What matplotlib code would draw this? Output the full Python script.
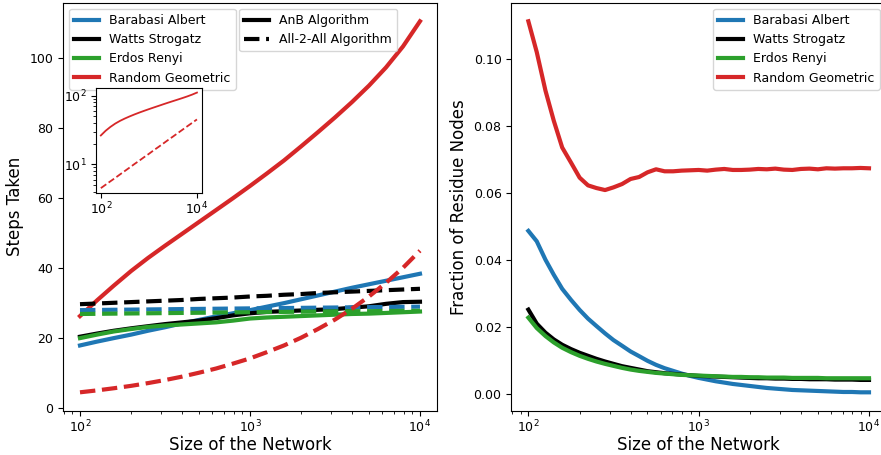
import matplotlib
matplotlib.use("Agg")
import matplotlib.pyplot as plt
import matplotlib.ticker as mticker
from matplotlib.lines import Line2D

# network sizes (log spaced, 100 .. 10000)
sizes_fine = [100, 112, 126, 141, 158, 178, 200, 224, 251, 282, 316, 355, 398, 447,
              501, 562, 631, 708, 794, 891, 1000, 1122, 1259, 1413, 1585, 1778, 1995,
              2239, 2512, 2818, 3162, 3548, 3981, 4467, 5012, 5623, 6310, 7079, 7943,
              8913, 10000]
sizes = sizes_fine[::2]

names = ["Barabasi Albert", "Watts Strogatz", "Erdos Renyi", "Random Geometric"]
colors = ["#1f77b4", "black", "#2ca02c", "#d62728"]

# steps taken, AnB algorithm
anb_ba = [17.9, 19.0, 20.0, 21.0, 22.1, 23.1, 24.2, 25.2, 26.2, 27.1, 28.0, 29.0,
          30.0, 31.1, 32.2, 33.3, 34.4, 35.4, 36.4, 37.4, 38.4]
anb_ws = [20.4, 21.3, 22.1, 22.8, 23.4, 24.0, 24.5, 25.0, 25.7, 26.5, 27.1, 27.5,
          27.7, 27.9, 28.1, 28.3, 28.7, 29.1, 29.8, 30.3, 30.4]
anb_er = [20.0, 21.0, 21.9, 22.6, 23.2, 23.6, 23.9, 24.2, 24.5, 25.0, 25.6, 25.9,
          26.1, 26.3, 26.5, 26.7, 26.9, 27.0, 27.2, 27.4, 27.6]
anb_rg = [26.3, 30.8, 35.0, 39.2, 42.9, 46.4, 49.8, 53.2, 56.6, 60.0, 63.5, 67.1,
          70.8, 74.8, 78.9, 83.1, 87.5, 92.2, 97.4, 103.4, 110.6]

# steps taken, All-2-All algorithm
a2a_ba = [28.0, 28.05, 28.1, 28.15, 28.2, 28.25, 28.3, 28.35, 28.4, 28.45, 28.5,
          28.55, 28.6, 28.65, 28.7, 28.75, 28.8, 28.85, 28.9, 28.95, 29.0]
a2a_ws = [29.7, 29.9, 30.1, 30.3, 30.5, 30.7, 30.9, 31.2, 31.4, 31.6, 31.9, 32.1,
          32.4, 32.6, 32.9, 33.1, 33.3, 33.5, 33.7, 33.9, 34.1]
a2a_er = [26.9, 26.95, 27.0, 27.05, 27.1, 27.15, 27.2, 27.25, 27.3, 27.35, 27.4,
          27.45, 27.5, 27.55, 27.6, 27.65, 27.7, 27.7, 27.75, 27.8, 27.8]
a2a_rg = [4.5, 5.05, 5.66, 6.35, 7.13, 8.0, 8.98, 10.1, 11.3, 12.7, 14.2, 16.0,
          17.9, 20.1, 22.6, 25.3, 28.4, 31.9, 35.8, 40.1, 45.0]

# fraction of residue nodes
res_ba = [0.0486, 0.0455, 0.0400, 0.0355, 0.0313, 0.0280, 0.0250, 0.0224, 0.0202,
          0.0180, 0.0160, 0.0143, 0.0126, 0.0112, 0.0098, 0.0086, 0.0076, 0.0068,
          0.0060, 0.0053, 0.0047, 0.0042, 0.0037, 0.0033, 0.0029, 0.0026, 0.0023,
          0.0020, 0.0017, 0.0015, 0.0013, 0.0011, 0.0010, 0.0009, 0.0008, 0.0007,
          0.0006, 0.0005, 0.0005, 0.0004, 0.0004]
res_ws = [0.0251, 0.0209, 0.0182, 0.0162, 0.0146, 0.0133, 0.0122, 0.0113, 0.0104,
          0.0096, 0.0089, 0.0082, 0.0077, 0.0072, 0.0067, 0.0064, 0.0061, 0.0059,
          0.0057, 0.0055, 0.0053, 0.0052, 0.0051, 0.0050, 0.0049, 0.0048, 0.0047,
          0.0046, 0.0046, 0.0045, 0.0045, 0.0044, 0.0044, 0.0043, 0.0043, 0.0043,
          0.0042, 0.0042, 0.0042, 0.0041, 0.0041]
res_er = [0.0227, 0.0196, 0.0172, 0.0153, 0.0137, 0.0124, 0.0113, 0.0104, 0.0096,
          0.0089, 0.0083, 0.0077, 0.0072, 0.0068, 0.0065, 0.0062, 0.0060, 0.0058,
          0.0056, 0.0055, 0.0054, 0.0053, 0.0052, 0.0051, 0.0050, 0.0050, 0.0049,
          0.0049, 0.0048, 0.0048, 0.0048, 0.0047, 0.0047, 0.0047, 0.0047, 0.0046,
          0.0046, 0.0046, 0.0046, 0.0046, 0.0046]
res_rg = [0.1112, 0.1020, 0.0905, 0.0815, 0.0735, 0.0690, 0.0645, 0.0622, 0.0614,
          0.0608, 0.0616, 0.0626, 0.0641, 0.0647, 0.0661, 0.0670, 0.0664, 0.0664,
          0.0666, 0.0667, 0.0668, 0.0666, 0.0669, 0.0671, 0.0668, 0.0668, 0.0669,
          0.0671, 0.0670, 0.0672, 0.0669, 0.0668, 0.0671, 0.0672, 0.0670, 0.0673,
          0.0672, 0.0673, 0.0673, 0.0674, 0.0673]

anb = [anb_ba, anb_ws, anb_er, anb_rg]
a2a = [a2a_ba, a2a_ws, a2a_er, a2a_rg]
res = [res_ba, res_ws, res_er, res_rg]

fig = plt.figure(figsize=(8.81, 4.55), dpi=100)
ax1 = fig.add_axes([0.0715, 0.097, 0.4245, 0.897])
# the right panel runs a little past the edge of the picture, as in the original
ax2 = fig.add_axes([0.5804, 0.097, 0.4253, 0.897])

# left panel: steps taken
for i in range(4):
    ax1.plot(sizes, anb[i], color=colors[i], lw=3, label=names[i])
for i in range(4):
    ax1.plot(sizes, a2a[i], color=colors[i], lw=3, linestyle="--")
ax1.set_xscale("log")
ax1.set_xlabel("Size of the Network", fontsize=12, labelpad=1)
ax1.set_ylabel("Steps Taken", fontsize=12)
ax1.tick_params(labelsize=9)
ax1.tick_params(axis="x", which="major", pad=2)

leg1 = ax1.legend(loc="upper left", fontsize=9)
ax1.add_artist(leg1)
algo = [Line2D([], [], color="black", lw=3),
        Line2D([], [], color="black", lw=3, linestyle="--")]
ax1.legend(algo, ["AnB Algorithm", "All-2-All Algorithm"], fontsize=9,
           loc="upper left", bbox_to_anchor=(0.455, 1.0))

# inset: random geometric on log-log
ins = fig.add_axes([0.109, 0.576, 0.120, 0.231])
ins.plot(sizes, anb_rg, color=colors[3], lw=1.3)
ins.plot(sizes, a2a_rg, color=colors[3], lw=1.3, linestyle="--")
ins.set_xscale("log")
ins.set_yscale("log")
ins.set_xticks([100, 10000])
ins.minorticks_off()
ins.set_yticks([10, 100])
ins.yaxis.set_minor_locator(mticker.LogLocator(subs=range(2, 10)))
ins.yaxis.set_minor_formatter(mticker.NullFormatter())
ins.tick_params(labelsize=9)
ins.tick_params(axis="x", pad=2)

# right panel: residue nodes
for i in range(4):
    ax2.plot(sizes_fine, res[i], color=colors[i], lw=3, label=names[i])
ax2.set_xscale("log")
ax2.set_xlabel("Size of the Network", fontsize=12, labelpad=1)
ax2.set_ylabel("Fraction of Residue Nodes", fontsize=12)
ax2.tick_params(labelsize=9)
ax2.tick_params(axis="x", which="major", pad=2)
ax2.legend(loc="upper right", fontsize=9)

fig.savefig("out.png", dpi=100)
